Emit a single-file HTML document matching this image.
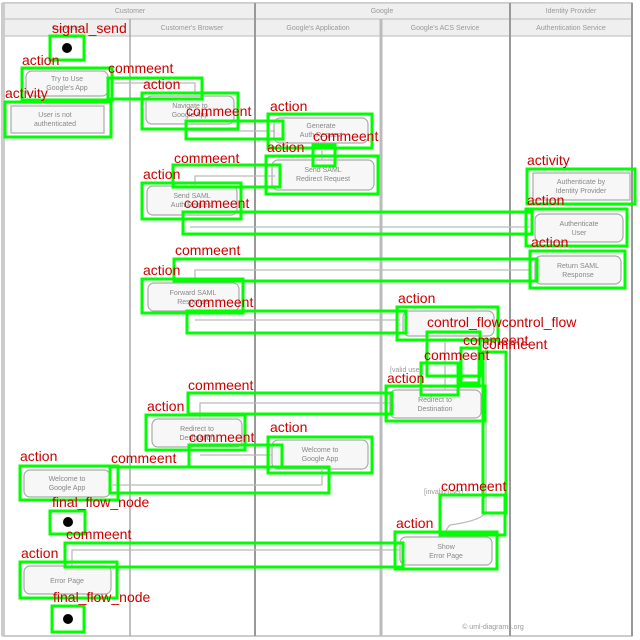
<!DOCTYPE html>
<html><head><meta charset="utf-8"><style>
html,body{margin:0;padding:0;background:#fff}
svg{display:block}
.g{fill:none;stroke:#00ff00;stroke-width:3}
.t{font-family:"Liberation Sans",sans-serif;font-size:14px;fill:#cc0000}
.n{fill:#f7f7f7;stroke:#aaa;stroke-width:1.2}
.h{font-family:"Liberation Sans",sans-serif;font-size:7px;fill:#999}
.x{font-family:"Liberation Sans",sans-serif;font-size:7px;fill:#888;text-anchor:middle}
.c{stroke:#bbb;stroke-width:1.3;fill:none}
</style></head><body>
<svg width="640" height="640" viewBox="0 0 640 640">
<rect x="0" y="0" width="640" height="640" fill="#fff"/>
<rect x="3" y="3" width="629" height="633" fill="#fff" stroke="#bbb" stroke-width="1.5"/>
<rect x="3" y="3" width="629" height="33" fill="#efefef" stroke="#bbb"/>
<line x1="3" y1="19" x2="632" y2="19" stroke="#bbb"/>
<line x1="3" y1="36" x2="632" y2="36" stroke="#bbb"/>
<line x1="130" y1="19" x2="130" y2="636" stroke="#aaa" stroke-width="1.5"/>
<line x1="255" y1="3" x2="255" y2="636" stroke="#999" stroke-width="2"/>
<line x1="381" y1="19" x2="381" y2="636" stroke="#bbb" stroke-width="3"/>
<line x1="510" y1="3" x2="510" y2="636" stroke="#999" stroke-width="2"/>
<line x1="632" y1="3" x2="632" y2="636" stroke="#999" stroke-width="2"/>
<line x1="3" y1="3" x2="3" y2="636" stroke="#ccc" stroke-width="4"/>
<text class="h" x="130" y="13" text-anchor="middle">Customer</text>
<text class="h" x="382" y="13" text-anchor="middle">Google</text>
<text class="h" x="571" y="13" text-anchor="middle">Identity Provider</text>
<text class="h" x="67" y="30" text-anchor="middle">Customer</text>
<text class="h" x="192" y="30" text-anchor="middle">Customer's Browser</text>
<text class="h" x="318" y="30" text-anchor="middle">Google's Application</text>
<text class="h" x="445" y="30" text-anchor="middle">Google's ACS Service</text>
<text class="h" x="571" y="30" text-anchor="middle">Authentication Service</text>
<text class="h" x="493" y="629" text-anchor="middle">© uml-diagrams.org</text>
<circle cx="67" cy="48" r="5" fill="#000"/>
<rect class="n" x="26" y="71" width="82" height="25" rx="6"/>
<text class="x" x="67" y="81">Try to Use</text><text class="x" x="67" y="90">Google's App</text>
<rect class="n" x="11" y="106" width="93" height="27"/>
<text class="x" x="55" y="117">User is not</text><text class="x" x="55" y="126">authenticated</text>
<rect class="n" x="146" y="96" width="88" height="28" rx="6"/>
<text class="x" x="190" y="108">Navigate to</text><text class="x" x="190" y="117">Google App</text>
<rect class="n" x="274" y="118" width="94" height="25" rx="6"/>
<text class="x" x="321" y="128">Generate</text><text class="x" x="321" y="137">Auth Request</text>
<rect class="n" x="272" y="160" width="102" height="30" rx="6"/>
<text class="x" x="323" y="172">Send SAML</text><text class="x" x="323" y="181">Redirect Request</text>
<rect class="n" x="147" y="186" width="90" height="29" rx="6"/>
<text class="x" x="192" y="198">Send SAML</text><text class="x" x="192" y="207">Auth Request</text>
<rect class="n" x="533" y="173" width="97" height="27"/>
<text class="x" x="581" y="184">Authenticate by</text><text class="x" x="581" y="193">Identity Provider</text>
<rect class="n" x="535" y="214" width="88" height="28" rx="6"/>
<text class="x" x="579" y="226">Authenticate</text><text class="x" x="579" y="235">User</text>
<rect class="n" x="535" y="256" width="86" height="28" rx="6"/>
<text class="x" x="578" y="268">Return SAML</text><text class="x" x="578" y="277">Response</text>
<rect class="n" x="148" y="283" width="91" height="28" rx="6"/>
<text class="x" x="193" y="295">Forward SAML</text><text class="x" x="193" y="304">Response</text>
<rect class="n" x="403" y="311" width="91" height="25" rx="6"/>
<rect class="n" x="390" y="390" width="91" height="28" rx="6"/>
<text class="x" x="435" y="402">Redirect to</text><text class="x" x="435" y="411">Destination</text>
<rect class="n" x="152" y="419" width="90" height="28" rx="6"/>
<text class="x" x="197" y="431">Redirect to</text><text class="x" x="197" y="440">Destination</text>
<rect class="n" x="272" y="440" width="96" height="29" rx="6"/>
<text class="x" x="320" y="452">Welcome to</text><text class="x" x="320" y="461">Google App</text>
<rect class="n" x="24" y="470" width="86" height="27" rx="6"/>
<text class="x" x="67" y="481">Welcome to</text><text class="x" x="67" y="490">Google App</text>
<circle cx="68" cy="522" r="5" fill="#000"/>
<rect class="n" x="400" y="537" width="92" height="28" rx="6"/>
<text class="x" x="446" y="549">Show</text><text class="x" x="446" y="558">Error Page</text>
<rect class="n" x="24" y="566" width="87" height="28" rx="6"/>
<text class="x" x="67" y="583">Error Page</text>
<circle cx="68" cy="619" r="5" fill="#000"/>
<text class="h" x="390" y="372">[valid user]</text>
<text class="h" x="424" y="494">[invalid user]</text>
<path class="c" d="M110 83 H195 V95"/>
<path class="c" d="M190 131 H275"/>
<path class="c" d="M322 150 V160"/>
<path class="c" d="M275 176 H195 V186"/>
<path class="c" d="M190 227 H530"/>
<path class="c" d="M530 270 H195 V283"/>
<path class="c" d="M195 320 H400"/>
<path class="c" d="M445 338 V390"/>
<path class="c" d="M486 340 V510 Q486 520 450 525 Q445 530 445 537"/>
<path class="c" d="M390 403 H200 V419"/>
<path class="c" d="M200 455 H272"/>
<path class="c" d="M322 470 V485 H112"/>
<path class="c" d="M400 550 H72 V566"/>
<g class="g">
<rect x="50" y="36" width="34" height="24"/>
<rect x="22" y="68" width="90" height="32"/>
<rect x="108" y="78" width="94" height="21"/>
<rect x="5" y="102" width="106" height="35"/>
<rect x="142" y="93" width="96" height="36"/>
<rect x="186" y="121" width="97" height="18"/>
<rect x="268" y="114" width="104" height="34"/>
<rect x="313" y="145" width="22" height="21"/>
<rect x="266" y="156" width="112" height="38"/>
<rect x="173" y="165" width="107" height="22"/>
<rect x="142" y="183" width="99" height="36"/>
<rect x="183" y="212" width="349" height="22"/>
<rect x="527" y="169" width="108" height="35"/>
<rect x="526" y="209" width="101" height="37"/>
<rect x="530" y="251" width="95" height="37"/>
<rect x="174" y="259" width="363" height="22"/>
<rect x="142" y="279" width="101" height="34"/>
<rect x="187" y="311" width="219" height="22"/>
<rect x="397" y="307" width="101" height="33"/>
<rect x="427" y="332" width="53" height="44"/>
<rect x="461" y="348" width="18" height="35"/>
<rect x="483" y="352" width="23" height="161"/>
<rect x="421" y="363" width="37" height="32"/>
<rect x="386" y="386" width="99" height="35"/>
<rect x="188" y="393" width="204" height="21"/>
<rect x="146" y="415" width="99" height="35"/>
<rect x="189" y="445" width="93" height="22"/>
<rect x="268" y="437" width="104" height="36"/>
<rect x="110" y="467" width="219" height="26"/>
<rect x="20" y="466" width="98" height="34"/>
<rect x="50" y="511" width="35" height="23"/>
<rect x="440" y="495" width="65" height="40"/>
<rect x="395" y="532" width="102" height="37"/>
<rect x="65" y="543" width="338" height="24"/>
<rect x="20" y="562" width="97" height="36"/>
<rect x="52" y="606" width="32" height="26"/>
</g>
<g class="t">
<text x="52" y="33">signal_send</text>
<text x="22" y="65">action</text>
<text x="108" y="73">commeent</text>
<text x="5" y="98">activity</text>
<text x="143" y="89">action</text>
<text x="186" y="116">commeent</text>
<text x="270" y="111">action</text>
<text x="313" y="141">commeent</text>
<text x="267" y="152">action</text>
<text x="174" y="163">commeent</text>
<text x="143" y="179">action</text>
<text x="184" y="208">commeent</text>
<text x="527" y="165">activity</text>
<text x="527" y="205">action</text>
<text x="531" y="247">action</text>
<text x="175" y="255">commeent</text>
<text x="143" y="275">action</text>
<text x="188" y="307">commeent</text>
<text x="398" y="303">action</text>
<text x="427" y="327">control_flowcontrol_flow</text>
<text x="463" y="345">commeent</text>
<text x="482" y="349">commeent</text>
<text x="424" y="360">commeent</text>
<text x="387" y="383">action</text>
<text x="188" y="390">commeent</text>
<text x="147" y="411">action</text>
<text x="189" y="442">commeent</text>
<text x="270" y="432">action</text>
<text x="111" y="463">commeent</text>
<text x="20" y="461">action</text>
<text x="52" y="507">final_flow_node</text>
<text x="441" y="491">commeent</text>
<text x="396" y="528">action</text>
<text x="66" y="539">commeent</text>
<text x="21" y="558">action</text>
<text x="53" y="602">final_flow_node</text>
</g>
</svg>
</body></html>
